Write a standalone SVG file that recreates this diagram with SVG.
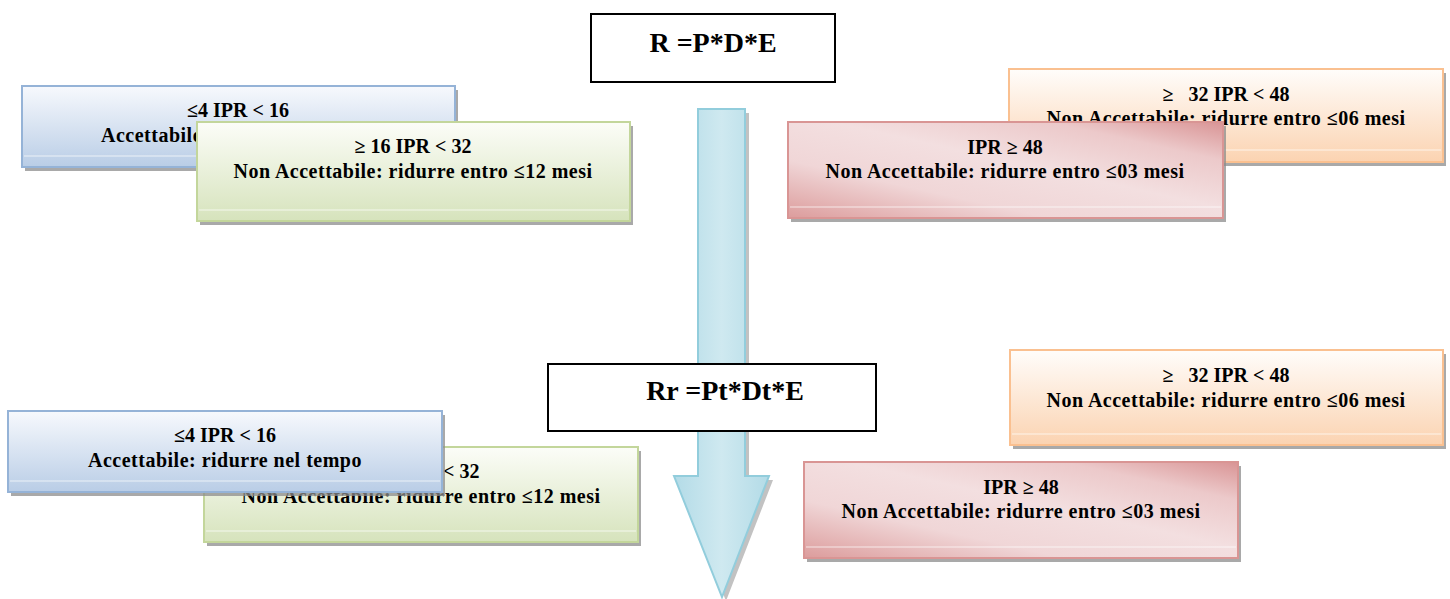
<svg xmlns="http://www.w3.org/2000/svg" width="1450" height="599" viewBox="0 0 1450 599">
<style>
text{font-family:"Liberation Serif","Times New Roman",serif;font-weight:bold;fill:#000;text-anchor:middle}
.t{font-size:20px}
.l2{letter-spacing:0.5px}
.f{font-size:28px}
.sh{fill:#8c8c8c;opacity:0.75}
.gl{stroke:#ffffff;stroke-width:1.2;opacity:0.7}
.formula{fill:#fff;stroke:#000;stroke-width:2}
</style>
<defs>
<linearGradient id="gBlue" x1="0" y1="0" x2="0" y2="1"><stop offset="0" stop-color="#f7f9fd"/><stop offset="1" stop-color="#b9cde6"/></linearGradient>
<linearGradient id="gGreen" x1="0" y1="0" x2="0" y2="1"><stop offset="0" stop-color="#fcfdf8"/><stop offset="1" stop-color="#d6e3bc"/></linearGradient>
<linearGradient id="gOrange" x1="0" y1="0" x2="0" y2="1"><stop offset="0" stop-color="#fffdfb"/><stop offset="1" stop-color="#fbd3b1"/></linearGradient>
<linearGradient id="gRed" x1="0" y1="1" x2="1" y2="0"><stop offset="0" stop-color="#dc9c9c"/><stop offset="0.3" stop-color="#f0d6d7"/><stop offset="0.55" stop-color="#f3dfe0"/><stop offset="0.8" stop-color="#ecc9ca"/><stop offset="1" stop-color="#d99495"/></linearGradient>
<linearGradient id="gArrow" x1="0" y1="0" x2="1" y2="0"><stop offset="0" stop-color="#b3dbe7"/><stop offset="0.5" stop-color="#cfe9f0"/><stop offset="1" stop-color="#b3dbe7"/></linearGradient>
</defs>

<g id="connectors">
<g id="arrow">
<path d="M702,113 L749,113 L749,480 L773,480 L726,601 L678,480 L702,480 Z" fill="#9a9a9a" opacity="0.6"/>
<path d="M698,109 L745,109 L745,476 L769,476 L722,597 L674,476 L698,476 Z" fill="url(#gArrow)" stroke="#92cddc" stroke-width="2"/>
</g>
</g>

<g id="formula-R">
<rect class="formula" x="591" y="14" width="244" height="68"/>
<text class="f" x="713" y="52">R =P*D*E</text>
</g>

<g id="formula-Rr">
<rect class="formula" x="548" y="364" width="328" height="67"/>
<text class="f" x="725" y="400">Rr =Pt*Dt*E</text>
</g>

<g id="top-blue">
<rect class="sh" x="25" y="90" width="433" height="81"/>
<rect x="22" y="86" width="433" height="81" fill="url(#gBlue)" stroke="#95b3d7" stroke-width="2"/>
<line class="gl" x1="24" y1="156" x2="453" y2="156"/>
<text class="t" x="238" y="117">≤4 IPR &lt; 16</text>
<text class="t l2" x="238" y="142">Accettabile: ridurre nel tempo</text>
</g>

<g id="top-green">
<rect class="sh" x="200" y="126" width="433" height="99"/>
<rect x="197" y="122" width="433" height="99" fill="url(#gGreen)" stroke="#c3d69b" stroke-width="2"/>
<line class="gl" x1="199" y1="210" x2="628" y2="210"/>
<text class="t" x="413" y="153">≥ 16 IPR &lt; 32</text>
<text class="t l2" x="413" y="178">Non Accettabile: ridurre entro ≤12 mesi</text>
</g>

<g id="top-orange">
<rect class="sh" x="1012" y="73" width="434" height="93"/>
<rect x="1009" y="69" width="434" height="93" fill="url(#gOrange)" stroke="#fac090" stroke-width="2"/>
<line class="gl" x1="1011" y1="150" x2="1441" y2="150"/>
<text class="t" x="1226" y="101">≥&#160;&#160; 32 IPR &lt; 48</text>
<text class="t l2" x="1226" y="125">Non Accettabile: ridurre entro ≤06 mesi</text>
</g>

<g id="top-red">
<rect class="sh" x="791" y="126" width="435" height="96"/>
<rect x="788" y="122" width="435" height="96" fill="url(#gRed)" stroke="#d99594" stroke-width="2"/>
<line class="gl" x1="790" y1="207" x2="1221" y2="207"/>
<text class="t" x="1005" y="154">IPR ≥ 48</text>
<text class="t l2" x="1005" y="178">Non Accettabile: ridurre entro ≤03 mesi</text>
</g>

<g id="bottom-green">
<rect class="sh" x="207" y="451" width="434" height="95"/>
<rect x="204" y="447" width="434" height="95" fill="url(#gGreen)" stroke="#c3d69b" stroke-width="2"/>
<line class="gl" x1="206" y1="531" x2="636" y2="531"/>
<text class="t" x="421" y="478">≥ 16 IPR &lt; 32</text>
<text class="t l2" x="421" y="503">Non Accettabile: ridurre entro ≤12 mesi</text>
</g>

<g id="bottom-blue">
<rect class="sh" x="11" y="415" width="434" height="81"/>
<rect x="8" y="411" width="434" height="81" fill="url(#gBlue)" stroke="#95b3d7" stroke-width="2"/>
<line class="gl" x1="10" y1="481" x2="440" y2="481"/>
<text class="t" x="225" y="442">≤4 IPR &lt; 16</text>
<text class="t l2" x="225" y="467">Accettabile: ridurre nel tempo</text>
</g>

<g id="bottom-orange">
<rect class="sh" x="1013" y="354" width="433" height="95"/>
<rect x="1010" y="350" width="433" height="95" fill="url(#gOrange)" stroke="#fac090" stroke-width="2"/>
<line class="gl" x1="1012" y1="434" x2="1441" y2="434"/>
<text class="t" x="1226" y="382">≥&#160;&#160; 32 IPR &lt; 48</text>
<text class="t l2" x="1226" y="407">Non Accettabile: ridurre entro ≤06 mesi</text>
</g>

<g id="bottom-red">
<rect class="sh" x="807" y="466" width="434" height="96"/>
<rect x="804" y="462" width="434" height="96" fill="url(#gRed)" stroke="#d99594" stroke-width="2"/>
<line class="gl" x1="806" y1="547" x2="1236" y2="547"/>
<text class="t" x="1021" y="494">IPR ≥ 48</text>
<text class="t l2" x="1021" y="518">Non Accettabile: ridurre entro ≤03 mesi</text>
</g>
</svg>
